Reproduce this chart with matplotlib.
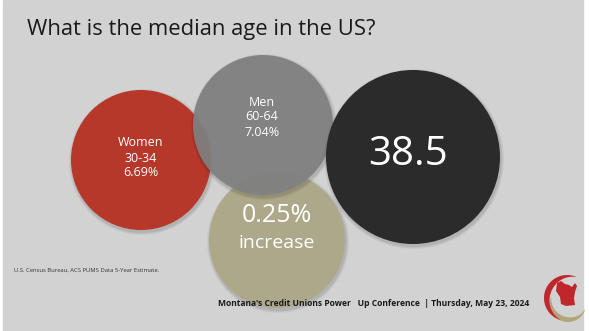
import numpy as np
import matplotlib.pyplot as plt
from matplotlib.patches import Circle, Polygon

# texto
titulo = "What is the median age in the US?"
fuente = "U.S. Census Bureau, ACS PUMS Data 5-Year Estimate."
pie = "Montana's Credit Unions Power   Up Conference  | Thursday, May 23, 2024"

# burbujas: etiqueta, edad, porcentaje
grupos = ["Women", "Men"]
edades = ["30-34", "60-64"]
porcentajes = [6.69, 7.04]
mediana = 38.5
cambio = 0.25

fondo = "#d3d2d3"
fig = plt.figure(figsize=(5.89, 3.31), dpi=100)
fig.patch.set_facecolor("white")
ax = fig.add_axes([0, 0, 1, 1])
ax.set_xlim(0, 589)
ax.set_ylim(331, 0)
ax.set_aspect("equal")
ax.axis("off")
ax.add_patch(plt.Rectangle((3, 0), 580, 331, color=fondo, zorder=0))

fam = ["Open Sans", "DejaVu Sans"]

def burbuja(cx, cy, r, color, z, alpha=1.0):
    # sombra suave
    for k, a in enumerate([0.06, 0.05, 0.04]):
        ax.add_patch(Circle((cx + 1, cy + 2), r + 1 + k, color="black", alpha=a, lw=0, zorder=z - 0.5))
    ax.add_patch(Circle((cx, cy), r, color=color, alpha=alpha, lw=0, zorder=z))

# burbuja beige (aumento)
burbuja(277, 240, 68, "#ada88a", 2)
ax.text(277, 216, f"{cambio:.2f}%", ha="center", va="center", color="white", fontsize=18, family=fam, zorder=10)
ax.text(277, 243, "increase", ha="center", va="center", color="white", fontsize=14, family=fam, zorder=10)

# mujeres
burbuja(141, 160, 70, "#b5382a", 3)
# hombres
burbuja(263, 125, 70, "#808080", 4, alpha=0.93)
# mediana
burbuja(413, 157, 87, "#2b2b2b", 5)

pos_texto = [(141, 158), (262, 117)]
for g, e, p, (x, y) in zip(grupos, edades, porcentajes, pos_texto):
    ax.text(x, y, f"{g}\n{e}\n{p:.2f}%", ha="center", va="center", color="white",
            fontsize=9, family=fam, linespacing=1.2, zorder=10)

ax.text(408, 155, f"{mediana}", ha="center", va="center", color="white", fontsize=29, family=fam, zorder=10)

ax.text(27, 30, titulo, ha="left", va="center", fontsize=15.8, family=fam, color="#1a1a1a")
ax.text(14, 270, fuente, ha="left", va="center", fontsize=4.2, family=fam, color="#333333")
ax.text(218, 303, pie, ha="left", va="center", fontsize=6.1, family=fam, weight="bold", color="#1a1a1a")

# logo: dos medias lunas y el mapa
def media_luna(cx, cy, r, a1, a2, grosor, color, z):
    t = np.radians(np.linspace(a1, a2, 60))
    g = grosor * np.sin(np.linspace(0, np.pi, 60))
    ext = np.c_[cx + r * np.cos(t), cy + r * np.sin(t)]
    inn = np.c_[cx + (r - g) * np.cos(t), cy + (r - g) * np.sin(t)][::-1]
    ax.add_patch(Polygon(np.vstack([ext, inn]), closed=True, color=color, lw=0, zorder=z))

media_luna(567, 298, 23, 105, 295, 6, "#c0272d", 7)
media_luna(568, 304, 18, 15, 205, 5, "#b3a57a", 6)
ax.add_patch(Polygon([(557, 283), (561, 281), (565, 284), (569, 285), (572, 287), (575, 283),
                      (577, 286), (575, 292), (574, 298), (575, 305), (566, 306), (561, 304),
                      (560, 297), (556, 291)],
                     closed=True, color="#c0272d", lw=0, zorder=8))

fig.savefig("out.png", dpi=100, facecolor=fig.get_facecolor())
